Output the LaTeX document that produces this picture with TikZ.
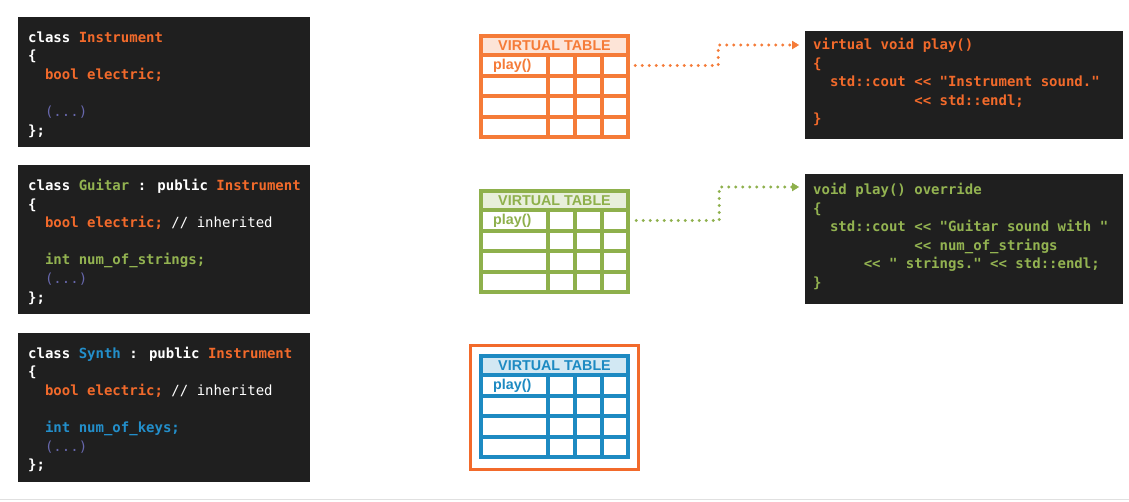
\documentclass[tikz,border=0pt]{standalone}
\usepackage{fontspec}
\usepackage{xcolor}
\usepackage{tikz}
\usetikzlibrary{arrows.meta}
\usetikzlibrary{positioning}
\usetikzlibrary{calc}
\newfontfamily\codefont{DejaVu Sans Mono}[Ligatures=TeXOff]
\newfontfamily\tabfont{Liberation Sans}
\definecolor{codebg}{HTML}{1F1F1F}
\definecolor{kwOrange}{HTML}{F26A2B}
\definecolor{kwGreen}{HTML}{93B351}
\definecolor{kwBlue}{HTML}{238FCB}
\definecolor{kwPurple}{HTML}{6767AC}
\definecolor{tabOrange}{HTML}{F57B38}
\definecolor{tabGreen}{HTML}{8EB04C}
\definecolor{tabBlue}{HTML}{1D8AC2}
\newcommand\co[1]{\textcolor{kwOrange}{#1}}
\newcommand\cg[1]{\textcolor{kwGreen}{#1}}
\newcommand\cb[1]{\textcolor{kwBlue}{#1}}
\newcommand\cp[1]{\textcolor{kwPurple}{\mdseries #1}}
\newcommand\ind[1]{\hspace*{#1\fontcharwd\font`x}}
\tikzset{
  codebox/.style = {rectangle, fill=codebg, inner sep=0pt, anchor=north west},
  % anchored at the baseline of the last line
  codetext/.style = {align=left, inner sep=0pt, anchor=base west, text=white,
    font=\codefont\bfseries\fontsize{14}{18.6}\selectfont},
  tabline/.style = {draw=#1, line width=3.3pt},
  tabtext/.style = {text=#1, inner sep=0pt,
    font=\tabfont\bfseries\fontsize{14.3}{16}\selectfont},
  tabrow/.style = {rectangle, inner sep=0pt, minimum width=147pt,
    minimum height=21pt},
  selbox/.style = {draw=kwOrange, line width=3pt, inner sep=0pt,
    minimum width=168pt, minimum height=124pt},
  dotarrow/.style = {draw=#1, line width=3.1pt, line cap=round,
    dash pattern=on 0pt off 7pt,
    -{Triangle[length=7pt,width=8.5pt,line width=0.4pt]}}
}
% virtual table: name, colour, top edge
\newcommand\vtable[3]{%
  \fill[#2!20] (481,#3) rectangle (628,#3+19);
  \foreach \r in {19,40,60,81}
    \draw[tabline=#2] (481,#3+\r) -- (628,#3+\r);
  \foreach \c in {548,575,602}
    \draw[tabline=#2] (\c,#3+19) -- (\c,#3+101);
  \draw[tabline=#2] (481,#3) rectangle (628,#3+101);
  \node[tabtext=#2] (#1-head) at (554.5,#3+9.5) {VIRTUAL TABLE};
  \node[tabrow] (#1) at (554.5,#3+29.5) {};
  \node[tabtext=#2, anchor=west] (#1-play) at (493,#3+29.5) {play()};
}

\begin{document}
\begin{tikzpicture}[x=1pt,y=-1pt]
\path[use as bounding box, fill=white] (0,0) rectangle (1129,501);
\draw[black!12, line width=1pt] (0,499.5) -- (1129,499.5);

% class declarations
\node[codebox, minimum width=292pt, minimum height=130pt] (instrBox) at (18,17) {};
\node[codebox, minimum width=292pt, minimum height=149pt] (guitarBox) at (18,165) {};
\node[codebox, minimum width=292pt, minimum height=149pt] (synthBox) at (18,333) {};

\node[codetext] (instrCode) at ([shift={(10,118)}]instrBox.north west) {%
  class \co{Instrument}\\
  \{\\
  \ind{2}\co{bool electric;}\\
  \mbox{}\\
  \ind{2}\cp{(...)}\\
  \};};
\node[codetext] (guitarCode) at ([shift={(10,137.1)}]guitarBox.north west) {%
  class \cg{Guitar} : public \co{Instrument}\\
  \{\\
  \ind{2}\co{bool electric;} {\mdseries // inherited}\\
  \mbox{}\\
  \ind{2}\cg{int num\_of\_strings;}\\
  \ind{2}\cp{(...)}\\
  \};};
\node[codetext] (synthCode) at ([shift={(10,136.6)}]synthBox.north west) {%
  class \cb{Synth} : public \co{Instrument}\\
  \{\\
  \ind{2}\co{bool electric;} {\mdseries // inherited}\\
  \mbox{}\\
  \ind{2}\cb{int num\_of\_keys;}\\
  \ind{2}\cp{(...)}\\
  \};};

% virtual tables
\vtable{instrTable}{tabOrange}{36}
\vtable{guitarTable}{tabGreen}{191}
\vtable{synthTable}{tabBlue}{356}
\node[selbox] (synthSel) at (554,407) {};

% play() bodies
\node[codebox, minimum width=318pt, minimum height=108pt] (instrPlay) at (805,31) {};
\node[codebox, minimum width=318pt, minimum height=130pt] (guitarPlay) at (805,174) {};

\node[codetext, text=kwOrange] (instrPlayCode) at ([shift={(8,92.9)}]instrPlay.north west) {%
  virtual void play()\\
  \{\\
  \ind{2}std::cout << "Instrument sound."\\
  \ind{12}<< std::endl;\\
  \}};
\node[codetext, text=kwGreen] (guitarPlayCode) at ([shift={(8,113.5)}]guitarPlay.north west) {%
  void play() override\\
  \{\\
  \ind{2}std::cout << "Guitar sound with "\\
  \ind{12}<< num\_of\_strings\\
  \ind{6}<< " strings." << std::endl;\\
  \}};

% table entries point to the bodies
\draw[dotarrow=tabOrange] ([xshift=7pt]instrTable.east) -- ++(83,0)
  |- ([shift={(-6,14)}]instrPlay.north west);
\draw[dotarrow=tabGreen] ([xshift=8pt]guitarTable.east) -- ++(83,0)
  |- ([shift={(-6,13)}]guitarPlay.north west);
\end{tikzpicture}
\end{document}
